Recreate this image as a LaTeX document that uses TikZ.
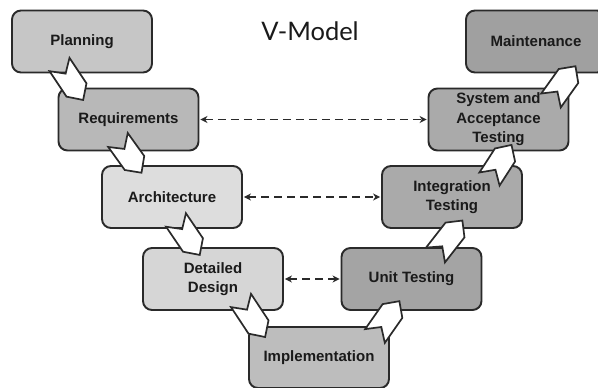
\documentclass[tikz,border=0pt]{standalone}
\usepackage{fontspec}
\setmainfont{Liberation Sans}
\newfontfamily\titlefont{Lato}
\usetikzlibrary{calc,arrows.meta}
\definecolor{txt}{HTML}{1A1A1A}
\definecolor{edge}{HTML}{2A2A2A}
\newcommand{\vchev}[2]{%
  \draw[chev] ($(#1)!12pt!90:(#2)$) -- ($(#1)!11pt!(#2)$) -- ($(#1)!12pt!-90:(#2)$)
    -- ($(#2)!12pt!90:(#1)$) -- ($(#2)!-12pt!(#1)$) -- ($(#2)!12pt!-90:(#1)$) -- cycle;}
\begin{document}
\begin{tikzpicture}[x=1pt,y=-1pt,
  box/.style={draw=edge, line width=1.9pt, rounded corners=9pt, minimum width=140pt,
    minimum height=62pt, align=center, text=txt, inner sep=0pt,
    font=\bfseries\fontsize{15}{19.5}\selectfont},
  link/.style={draw=edge, line width=1.8pt, dash pattern=on 8pt off 5pt,
    {Stealth[length=7pt,width=7pt]}-{Stealth[length=7pt,width=7pt]}, shorten >=1pt, shorten <=1pt},
  chev/.style={draw=edge, fill=white, line width=1.7pt, line join=miter}]
\useasboundingbox (0,0) rectangle (598,388);
\fill[white] (0,0) rectangle (598,388);

\node[font=\titlefont\fontsize{25.5}{29}\selectfont, text=txt] (title) at (310,31.5) {V-Model};

\node[box, fill={rgb,255:red,198;green,198;blue,198}] (plan)  at (82,41.5)   {Planning};
\node[box, fill={rgb,255:red,184;green,184;blue,184}] (req)   at (128.5,119.5) {Requirements};
\node[box, fill={rgb,255:red,221;green,221;blue,221}] (arch)  at (172,197)   {Architecture};
\node[box, fill={rgb,255:red,214;green,214;blue,214}] (det)   at (213,279)   {Detailed\\Design};
\node[box, fill={rgb,255:red,189;green,189;blue,189}, minimum height=61pt] (impl) at (319,357.5) {Implementation};
\node[box, fill={rgb,255:red,164;green,164;blue,164}] (unit)  at (411.5,279) {Unit Testing};
\node[box, fill={rgb,255:red,170;green,170;blue,170}] (integ) at (452,197)   {Integration\\Testing};
\node[box, fill={rgb,255:red,170;green,170;blue,170}] (sys)   at (498.5,119.5) {System and\\Acceptance\\Testing};
\node[box, fill={rgb,255:red,160;green,160;blue,160}] (maint) at (536,41.5)  {Maintenance};

\draw[link] (req.east) -- (sys.west);
\draw[link] (arch.east) -- (integ.west);
\draw[link] (det.east) -- (unit.west);

\coordinate (t1) at (59.5,64.5);  \coordinate (h1) at (76.5,90);
\coordinate (t2) at (118,140);    \coordinate (h2) at (134.5,163);
\coordinate (t3) at (176,220);    \coordinate (h3) at (193,245);
\coordinate (t4) at (241,300.5);  \coordinate (h4) at (258.5,327);
\coordinate (t5) at (375,336);    \coordinate (h5) at (392.5,311);
\coordinate (t6) at (435.5,255);  \coordinate (h6) at (455,230);
\coordinate (t7) at (489.5,179);  \coordinate (h7) at (505,155);
\coordinate (t8) at (551,100.5);  \coordinate (h8) at (568.5,76);
\vchev{t1}{h1}
\vchev{t2}{h2}
\vchev{t3}{h3}
\vchev{t4}{h4}
\vchev{t5}{h5}
\vchev{t6}{h6}
\vchev{t7}{h7}
\vchev{t8}{h8}
\end{tikzpicture}
\end{document}
